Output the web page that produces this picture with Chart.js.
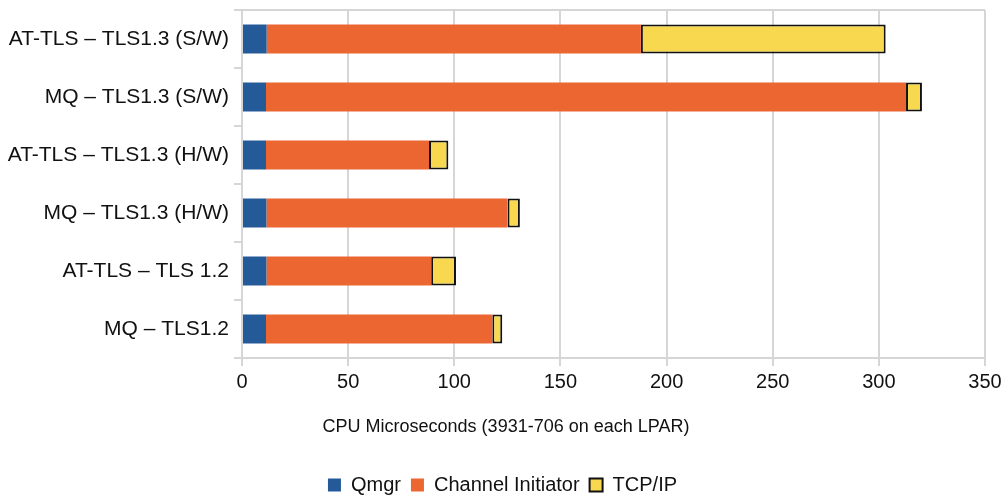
<!DOCTYPE html>
<html>
<head>
<meta charset="utf-8">
<script src="https://cdn.jsdelivr.net/npm/chart.js@4"></script>
<style>
  body { margin: 0; background: #fff; }
  #wrap { width: 1006px; height: 499px; }
</style>
</head>
<body>
<div id="wrap"><canvas id="cpu"></canvas></div>
<script>
// values (CPU microseconds)
var categories = ['AT-TLS – TLS1.3 (S/W)', 'MQ – TLS1.3 (S/W)', 'AT-TLS – TLS1.3 (H/W)',
                  'MQ – TLS1.3 (H/W)', 'AT-TLS – TLS 1.2', 'MQ – TLS1.2']
var qmgr      = [11.6, 11.3, 11.3, 11.5, 11.5, 11.3]
var chinit    = [176.3, 301.5, 76.8, 113.6, 77.6, 106.6]
var tcpip     = [115.3, 7.5, 9.1, 5.8, 11.7, 4.7]
var xTicks    = [0, 50, 100, 150, 200, 250, 300, 350]
var xTitle    = 'CPU Microseconds (3931-706 on each LPAR)'

var gridGrey = '#d6d6d6'
var font = 'Liberation Sans, Arial, Helvetica, sans-serif'

// x axis title is centred on the whole picture, not on the plot, so draw it by hand
var axisTitle = {
  id: 'axisTitle',
  afterLayout: function(chart){
    // centre the legend on the full width like the original
    chart.legend.left += 10
    chart.legend.right += 10
  },
  afterDraw: function(chart){
    var c = chart.ctx
    c.save()
    c.font = '18px ' + font
    c.fillStyle = '#111'
    c.textAlign = 'center'
    c.textBaseline = 'middle'
    c.fillText(xTitle, 506, 427)
    c.restore()
  }
}

var ctx = document.getElementById('cpu')
var cpuChart = new Chart(ctx, {
  type: 'bar',
  data: {
    labels: categories,
    datasets: [
      { label: 'Qmgr', data: qmgr, backgroundColor: '#245a98', borderWidth: 0 },
      { label: 'Channel Initiator', data: chinit, backgroundColor: '#ec6632', borderWidth: 0 },
      { label: 'TCP/IP', data: tcpip, backgroundColor: '#f7d84f', borderColor: '#111',
        borderWidth: 2, borderSkipped: false }
    ]
  },
  options: {
    indexAxis: 'y',
    responsive: true,
    maintainAspectRatio: false,
    animation: false,
    categoryPercentage: 1,
    barPercentage: 0.5,
    layout: { padding: { left: 0, right: 21, top: 10, bottom: -6 } },
    plugins: {
      tooltip: { enabled: false },
      legend: {
        position: 'bottom',
        labels: {
          font: { family: font, size: 20 },
          color: '#111',
          boxWidth: 13,
          boxHeight: 13,
          padding: 10
        }
      }
    },
    scales: {
      x: {
        stacked: true,
        min: 0,
        max: 350,
        afterBuildTicks: function(scale){
          scale.ticks = xTicks.map(function(v){ return { value: v } })
        },
        afterFit: function(scale){ scale.height = 107 },
        grid: { color: gridGrey, lineWidth: 2, tickLength: 8, tickColor: gridGrey },
        border: { color: gridGrey, width: 2 },
        ticks: { font: { family: font, size: 20 }, color: '#111', padding: 4, maxRotation: 0 }
      },
      y: {
        stacked: true,
        afterFit: function(scale){
          scale.width = 242
          scale.paddingTop = 0
          scale.paddingBottom = 0
        },
        grid: {
          color: function(c){ return c.index === 0 ? gridGrey : 'rgba(0,0,0,0)' },
          lineWidth: 2,
          tickLength: 8,
          tickColor: gridGrey
        },
        border: { color: gridGrey, width: 2 },
        ticks: { font: { family: font, size: 21 }, color: '#111', padding: 5 }
      }
    }
  },
  plugins: [axisTitle]
})
</script>
</body>
</html>
